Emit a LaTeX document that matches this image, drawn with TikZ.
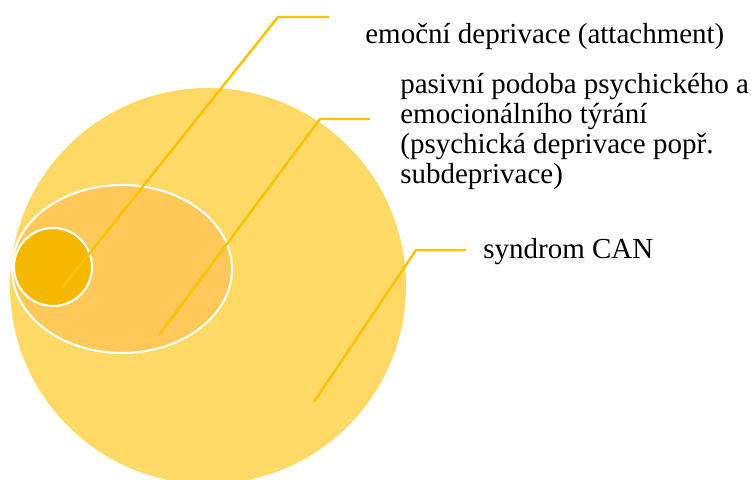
\documentclass[tikz,border=0pt]{standalone}
\usepackage{fontspec}
\setmainfont{Liberation Serif}
\usepackage{tikz}
\usetikzlibrary{positioning}
\definecolor{canOuter}{HTML}{FFD966}
\definecolor{canMid}{HTML}{FFC858}
\definecolor{canInner}{HTML}{F4B800}
\definecolor{canLead}{HTML}{FFC000}
\tikzset{
  lead/.style={canLead,line width=1.4pt},
  callout/.style={inner sep=0pt,anchor=base west,align=left,
    font=\fontsize{16.5}{17}\selectfont}
}

\begin{document}
\begin{tikzpicture}[x=0.02cm,y=-0.02cm]
  \useasboundingbox (0,0) rectangle (755,480);
  % nested sets
  \fill[canOuter] (208,286) circle (198);
  \filldraw[canMid,draw=white,line width=1.2pt] (122,269) ellipse (110 and 84);
  \filldraw[canInner,draw=white,line width=1.2pt] (53,267) circle (39);
  % labels (base = last line)
  \node[callout] (emo) at (365,43) {emoční deprivace (attachment)};
  \node[callout] (pas) at (400,183) {pasivní podoba psychického a\\
    emocionálního týrání\\(psychická deprivace popř.\\subdeprivace)};
  \node[callout] (can) at (483,258) {syndrom CAN};
  % leader lines
  \coordinate (emoIn) at (62,288);
  \coordinate (emoOut) at (329,17);
  \coordinate (pasIn) at (159,335);
  \coordinate (pasOut) at (370,119);
  \coordinate (canIn) at (314,402);
  \coordinate (canOut) at (466,250);
  \draw[lead] (emoIn) -- (278,17) -- (emoOut);
  \draw[lead] (pasIn) -- (320,119) -- (pasOut);
  \draw[lead] (canIn) -- (416,250) -- (canOut);
\end{tikzpicture}
\end{document}
